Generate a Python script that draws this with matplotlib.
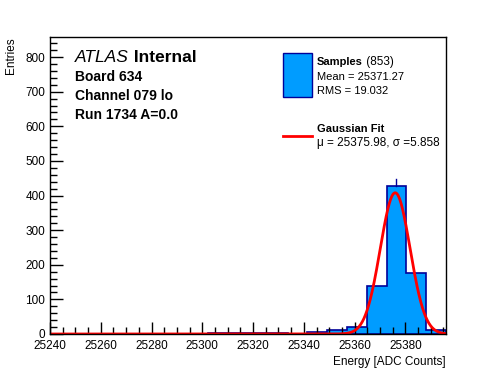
import numpy as np
import matplotlib.pyplot as plt
from matplotlib.ticker import MultipleLocator

plt.rcParams['font.family'] = ['Liberation Sans', 'DejaVu Sans']

# histogram: 20 bins from 25240 to 25396
bin_lo = 25240
bin_width = 7.8
counts = [0, 0, 0, 0, 0, 0, 0, 0, 4, 4, 4, 4, 0, 7, 13, 19, 138, 427, 176, 13]

# gaussian fit
fit_amp = 408
fit_mu = 25375.98
fit_sigma = 5.858

n_entries = 853
mean_val = 25371.27
rms_val = 19.032

edges = bin_lo + bin_width * np.arange(len(counts) + 1)
centers = 0.5 * (edges[:-1] + edges[1:])

fig = plt.figure(figsize=(4.96, 3.72), dpi=100)
ax = fig.add_axes([50/496, 1 - 334/372, 396/496, 297/372])

ax.hist(centers, bins=edges, weights=counts, histtype='stepfilled',
        facecolor='#009cff', edgecolor='#000099', linewidth=1.2)
peak = int(np.argmax(counts))
ax.plot([centers[peak]] * 2, [counts[peak], counts[peak] + np.sqrt(counts[peak])],
        color='#000099', lw=1)

x = np.linspace(edges[0], edges[-1], 1000)
ax.plot(x, fit_amp * np.exp(-(x - fit_mu)**2 / (2 * fit_sigma**2)), color='red', lw=2)

ax.set_xlim(edges[0], edges[-1])
ax.set_ylim(0, 858)
ax.xaxis.set_major_locator(MultipleLocator(20))
ax.xaxis.set_minor_locator(MultipleLocator(5))
ax.yaxis.set_major_locator(MultipleLocator(100))
ax.yaxis.set_minor_locator(MultipleLocator(20))
ax.tick_params(which='both', direction='in', top=False, right=False, labelsize=8.5, width=1)
ax.tick_params(which='major', length=9)
ax.tick_params(which='minor', length=5)
ax.tick_params(axis='x', pad=4)
for s in ax.spines.values():
    s.set_linewidth(1)

ax.set_xlabel('Energy [ADC Counts]', fontsize=8.5, loc='right', labelpad=3)
ax.set_ylabel('Entries', fontsize=8.5, loc='top')
ax.yaxis.set_label_coords(-33/396, 1.0)

tr = fig.transFigure
def fx(px):
    return px / 496
def fy(py):
    return 1 - py / 372

t = fig.text(fx(75), fy(58), 'ATLAS', style='italic', fontsize=12.5, va='center', transform=tr)
ax.annotate(' Internal', xy=(1, 0.5), xycoords=t, va='center', weight='bold', fontsize=12.5)
fig.text(fx(75), fy(77), 'Board 634', weight='bold', fontsize=10, va='center', transform=tr)
fig.text(fx(75), fy(96), 'Channel 079 lo', weight='bold', fontsize=10, va='center', transform=tr)
fig.text(fx(75), fy(115), 'Run 1734 A=0.0', weight='bold', fontsize=10, va='center', transform=tr)

# legend drawn by hand
fig.patches.append(plt.Rectangle((fx(283), fy(97)), fx(312) - fx(283), fy(53) - fy(97),
                                 facecolor='#009cff', edgecolor='#000099', lw=1, transform=tr))
t = fig.text(fx(317), fy(62), 'Samples', weight='bold', fontsize=8, va='center', transform=tr)
ax.annotate(f' ({n_entries})', xy=(1, 0.5), xycoords=t, va='center', fontsize=8.5)
fig.text(fx(317), fy(77), f'Mean = {mean_val:.2f}', fontsize=8, va='center', transform=tr)
fig.text(fx(317), fy(91), f'RMS = {rms_val:.3f}', fontsize=8, va='center', transform=tr)
fig.lines.append(plt.Line2D([fx(283), fx(312)], [fy(136), fy(136)], color='red', lw=2, transform=tr))
fig.text(fx(317), fy(129), 'Gaussian Fit', weight='bold', fontsize=8, va='center', transform=tr)
fig.text(fx(317), fy(143), f'μ = {fit_mu:.2f}, σ ={fit_sigma:.3f}', fontsize=8.5, va='center', transform=tr)

fig.savefig('out.png', dpi=100)
